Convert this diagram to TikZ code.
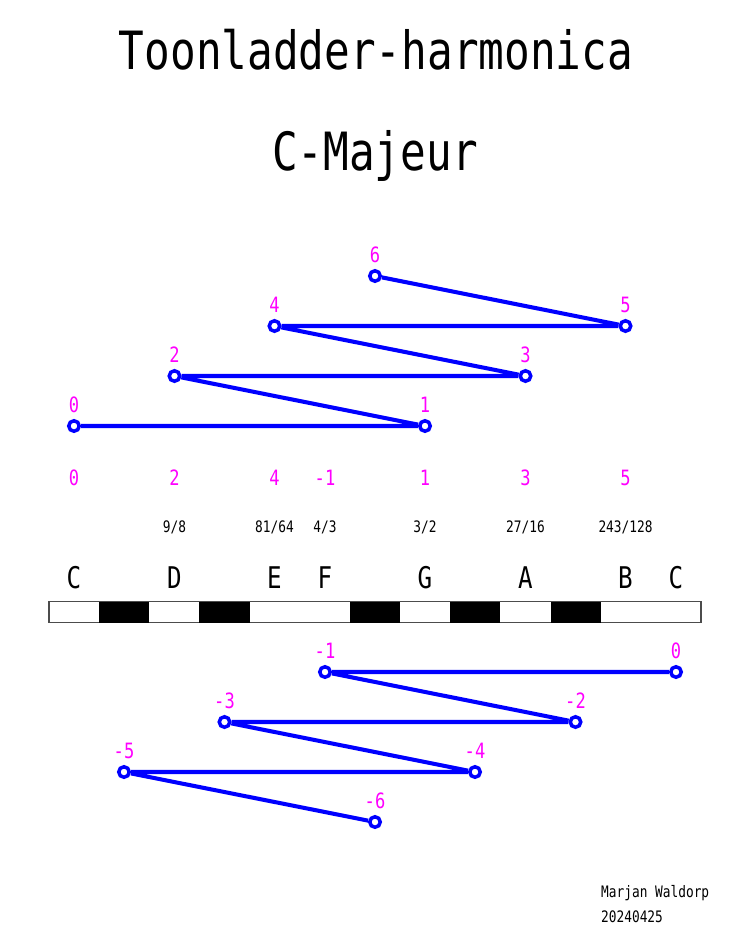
\documentclass[tikz,border=0pt]{standalone}
\usepackage{fontspec}
\setmainfont{DejaVu Sans Mono}[FakeStretch=0.81]
\usepackage{tikz}
\usetikzlibrary{positioning}
\definecolor{toon}{RGB}{255,0,255}
\definecolor{lijn}{RGB}{0,0,255}
\tikzstyle{hole} = [circle, draw=lijn, fill=white, line width=2pt, minimum size=0.21cm, inner sep=0pt]
\tikzstyle{num} = [text=toon, font=\fontsize{12}{12}\selectfont]
\tikzstyle{ratio} = [font=\fontsize{9}{9}\selectfont]
\tikzstyle{note} = [font=\fontsize{17}{17}\selectfont]
\tikzstyle{title} = [font=\fontsize{30}{30}\selectfont, anchor=base]
\tikzstyle{sign} = [font=\fontsize{9}{9}\selectfont, anchor=base west]
\tikzstyle{link} = [draw=lijn, line width=2.3pt]

\begin{document}
\begin{tikzpicture}[node distance=1cm]
\useasboundingbox (0,0) rectangle (15,-18.96);

\node (title) [title] at (7.52,-1.38) {Toonladder-harmonica};
\node (scale) [title] at (7.5,-3.40) {C-Majeur};

% kwinten omhoog
\node (p0) [hole, label={[num]above:0}] at (1.48,-8.52) {};
\node (p1) [hole, label={[num]above:1}] at (8.50,-8.52) {};
\node (p2) [hole, label={[num]above:2}] at (3.49,-7.52) {};
\node (p3) [hole, label={[num]above:3}] at (10.51,-7.52) {};
\node (p4) [hole, label={[num]above:4}] at (5.49,-6.52) {};
\node (p5) [hole, label={[num]above:5}] at (12.51,-6.52) {};
\node (p6) [hole, label={[num]above:6}] at (7.50,-5.52) {};

\draw [link] (p0) -- (p1) -- (p2) -- (p3) -- (p4) -- (p5) -- (p6);

% toonladder
\node (k0) [num] at (1.48,-9.55) {0};
\node (k2) [num] at (3.49,-9.55) {2};
\node (k4) [num] at (5.49,-9.55) {4};
\node (k5) [num] at (6.50,-9.55) {-1};
\node (k7) [num] at (8.50,-9.55) {1};
\node (k9) [num] at (10.51,-9.55) {3};
\node (k11) [num] at (12.51,-9.55) {5};

\node (r2) [ratio, below of=k2] {9/8};
\node (r4) [ratio, below of=k4] {81/64};
\node (r5) [ratio, below of=k5] {4/3};
\node (r7) [ratio, below of=k7] {3/2};
\node (r9) [ratio, below of=k9] {27/16};
\node (r11) [ratio, below of=k11] {243/128};

\node (c) [note, below of=k0, yshift=-1cm] {C};
\node (d) [note, below of=r2] {D};
\node (e) [note, below of=r4] {E};
\node (f) [note, below of=r5] {F};
\node (g) [note, below of=r7] {G};
\node (a) [note, below of=r9] {A};
\node (b) [note, below of=r11] {B};
\node (c2) [note, right of=b, xshift=0.01cm] {C};

% toetsen
\draw [draw=black!70, line width=0.6pt] (0.98,-12.03) rectangle (14.02,-12.45);
\foreach \k in {1,3,6,8,10}
  \fill (0.98+\k*1.003,-12.03) rectangle (1.983+\k*1.003,-12.45);

% kwarten omlaag
\node (n0) [hole, label={[num]above:0}] at (13.52,-13.44) {};
\node (n1) [hole, label={[num]above:-1}] at (6.50,-13.44) {};
\node (n2) [hole, label={[num]above:-2}] at (11.51,-14.44) {};
\node (n3) [hole, label={[num]above:-3}] at (4.49,-14.44) {};
\node (n4) [hole, label={[num]above:-4}] at (9.50,-15.44) {};
\node (n5) [hole, label={[num]above:-5}] at (2.48,-15.44) {};
\node (n6) [hole, label={[num]above:-6}] at (7.50,-16.44) {};

\draw [link] (n0) -- (n1) -- (n2) -- (n3) -- (n4) -- (n5) -- (n6);

\node (name) [sign] at (11.9,-17.94) {Marjan Waldorp};
\node (date) [sign] at (11.9,-18.44) {20240425};

\end{tikzpicture}
\end{document}
